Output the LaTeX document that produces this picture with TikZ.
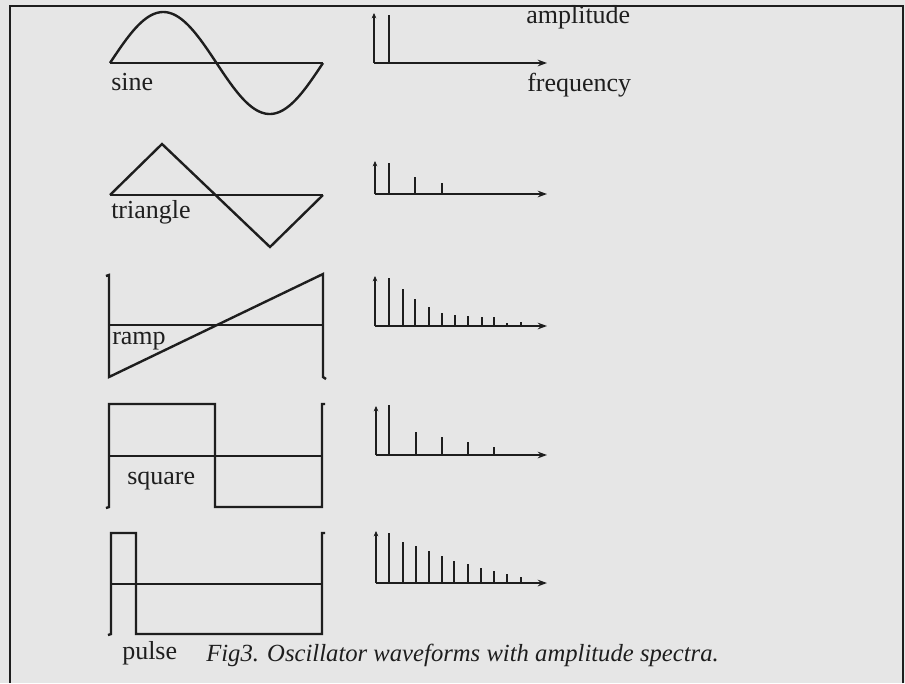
\documentclass[tikz,border=0pt]{standalone}
\usepackage{fontspec}
\setmainfont{Liberation Serif}
\usetikzlibrary{arrows.meta}
\definecolor{paper}{HTML}{E6E6E6}
\definecolor{ink}{HTML}{1E1E1E}
\tikzset{
  wave/.style={draw=ink, line width=1.8pt, line join=miter},
  spike/.style={draw=ink, line width=2pt},
  axisline/.style={draw=ink, line width=2pt},
  haxis/.style={axisline, -{Stealth[length=7pt,width=5pt]}},
  vaxis/.style={axisline, -{Stealth[length=4pt,width=3.5pt]}},
  lbl/.style={anchor=base west, inner sep=0, text=ink, font=\fontsize{19.5}{22}\selectfont},
  captext/.style={anchor=base west, inner sep=0, text=ink, font=\fontsize{18.5}{22}\selectfont\itshape},
  framebox/.style={draw=ink, line width=2pt}
}
\begin{document}
\begin{tikzpicture}[x=0.75pt, y=-0.75pt]
\fill[paper] (0,0) rectangle (905,683);
\useasboundingbox (0,0) rectangle (905,683);
% frame
\coordinate (fbr) at (903,683);
\coordinate (ftr) at (903,6);
\coordinate (ftl) at (10,6);
\coordinate (fbl) at (10,683);
\draw[framebox] (fbr) -- (ftr) -- (ftl) -- (fbl);

% ---------- sine ----------
\draw[wave] (110,63) -- (323,63);
\draw[wave] plot[domain=0:360, samples=91, smooth] ({110+0.591667*\x},{63-51*sin(\x)});
\node[lbl] (sine) at (111,90) {sine};

% ---------- triangle ----------
\draw[wave] (110,195) -- (323,195);
\draw[wave] (110,195) -- (162,144) -- (270,247) -- (323,195);
\node[lbl] (tri) at (111,218) {triangle};

% ---------- ramp ----------
\draw[wave] (109,325) -- (323,325);
\draw[wave] (106,276) -- (109,275) -- (109,377) -- (323,274) -- (323,377) -- (326,379);
\node[lbl] (ramp) at (112,344) {ramp};

% ---------- square ----------
\draw[wave] (109,456) -- (322,456);
\draw[wave] (106,508) -- (109,507) -- (109,404) -- (215,404) -- (215,507) -- (322,507) -- (322,404) -- (325,404);
\node[lbl] (square) at (127,484) {square};

% ---------- pulse ----------
\draw[wave] (111,584) -- (322,584);
\draw[wave] (108,635) -- (111,634) -- (111,533) -- (136,533) -- (136,634) -- (322,634) -- (322,533) -- (325,533);
\node[lbl] (pulse) at (122,659) {pulse};

% ---------- spectra ----------
% 1: sine
\coordinate (o1) at (374,63);
\coordinate (x1) at (547,63);
\coordinate (y1) at (374,13);
\draw[haxis] (o1) -- (x1);
\draw[vaxis] (o1) -- (y1);
\foreach \px/\py in {389/15} \draw[spike] (\px,63) -- (\px,\py);
\node[lbl] (amp) at (526,23) {amplitude};
\node[lbl] (freq) at (527,91) {frequency};

% 2: triangle
\coordinate (o2) at (375,194);
\coordinate (x2) at (547,194);
\coordinate (y2) at (375,161);
\draw[haxis] (o2) -- (x2);
\draw[vaxis] (o2) -- (y2);
\foreach \px/\py in {389/163, 415/177, 442/183} \draw[spike] (\px,194) -- (\px,\py);

% 3: ramp
\coordinate (o3) at (375,326);
\coordinate (x3) at (547,326);
\coordinate (y3) at (375,276);
\draw[haxis] (o3) -- (x3);
\draw[vaxis] (o3) -- (y3);
\foreach \px/\py in {389/278, 403/289, 415/299, 429/307, 442/313, 455/315, 468/316, 482/317, 494/317, 507/323, 521/322}
  \draw[spike] (\px,326) -- (\px,\py);

% 4: square
\coordinate (o4) at (376,455);
\coordinate (x4) at (547,455);
\coordinate (y4) at (376,406);
\draw[haxis] (o4) -- (x4);
\draw[vaxis] (o4) -- (y4);
\foreach \px/\py in {389/405, 416/432, 442/437, 468/442, 494/447} \draw[spike] (\px,455) -- (\px,\py);

% 5: pulse
\coordinate (o5) at (376,583);
\coordinate (x5) at (547,583);
\coordinate (y5) at (376,531);
\draw[haxis] (o5) -- (x5);
\draw[vaxis] (o5) -- (y5);
\foreach \px/\py in {389/533, 403/542, 416/546, 429/551, 442/556, 454/561, 468/564, 481/568, 494/571, 507/574, 521/577}
  \draw[spike] (\px,583) -- (\px,\py);

% caption
\node[captext] (caption) at (206,661) {Fig3. Oscillator waveforms with amplitude spectra.};
\end{tikzpicture}
\end{document}
